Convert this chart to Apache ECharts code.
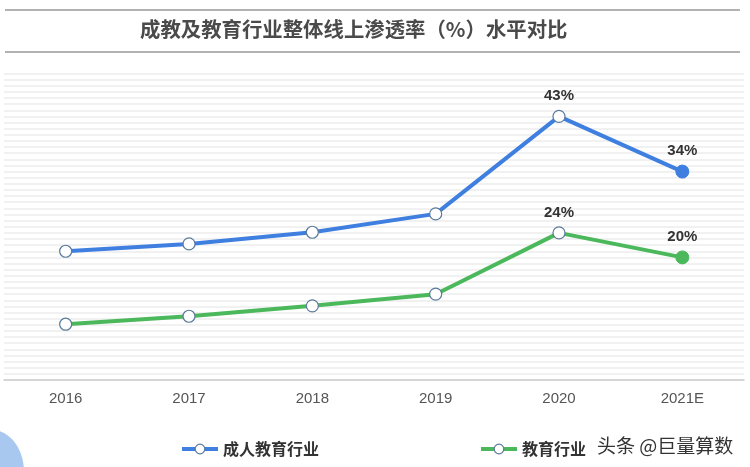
<!DOCTYPE html>
<html><head><meta charset="utf-8">
<script src="https://cdn.jsdelivr.net/npm/echarts@6/dist/echarts.min.js"></script>
<style>html,body{margin:0;padding:0;background:#fff;}#c{width:750px;height:467px;}</style>
</head><body><div id="c"></div>
<script>
const categories = ['2016','2017','2018','2019','2020','2021E'];
const adultEdu = [21.0, 22.2, 24.1, 27.1, 43, 34];
const education = [9.1, 10.4, 12.1, 14.0, 24, 20];
const labelShown = [false, false, false, false, true, true];
const seriesNames = ['成人教育行业', '教育行业'];
const titleText = '成教及教育行业整体线上渗透率（%）水平对比';
const watermark = '头条 @巨量算数';

const blue = '#3f7fe0', green = '#4cb85c';
function mk(vals, color){
  return vals.map((v,i)=>{
    const last = i === vals.length-1;
    return {
      value: v,
      symbolSize: last ? 13 : 12,
      itemStyle: last ? {color: color, borderColor: color, borderWidth: 1} : {color:'#fff', borderColor:'#5a7a9a', borderWidth:1.2},
      label: {show: labelShown[i]}
    };
  });
}
const legendCommon = {top:441, padding:0, itemWidth:36, itemHeight:12,
  itemStyle:{color:'#fff', borderColor:'#5a7a9a', borderWidth:1.2},
  lineStyle:{width:4},
  textStyle:{fontSize:16, fontWeight:'bold', color:'#333', fontFamily:'Noto Sans CJK SC'}};
const chart = echarts.init(document.getElementById('c'));
chart.setOption({
  animation:false,
  backgroundColor:'#fff',
  grid:{left:4, right:6, top:73.5, bottom:87},
  xAxis:{type:'category', data:categories, boundaryGap:true,
    axisLine:{lineStyle:{color:'#ccc', width:1.5}}, axisTick:{show:false},
    axisLabel:{color:'#555', fontSize:15, margin:11, fontFamily:'Arial, Liberation Sans, sans-serif'}},
  yAxis:{type:'value', min:0, max:50, interval:1, axisLabel:{show:false}, axisLine:{show:false}, axisTick:{show:false},
    splitLine:{lineStyle:{color:'#ededed', width:1.5}}},
  legend:[
    Object.assign({data:[seriesNames[0]], left:180}, legendCommon),
    Object.assign({data:[seriesNames[1]], left:479}, legendCommon)
  ],
  graphic:[
    {type:'line', shape:{x1:5,y1:10,x2:740,y2:10}, style:{stroke:'#999', lineWidth:1.5}},
    {type:'line', shape:{x1:5,y1:52,x2:740,y2:52}, style:{stroke:'#999', lineWidth:1.5}},
    {type:'text', left:140, top:19, style:{text:titleText, fontSize:20.4, fontWeight:'bold', fill:'#4a4a4a', fontFamily:'Noto Sans CJK SC'}},
    {type:'text', left:597, top:436, style:{text:watermark, fontSize:19, fill:'#333', fontFamily:'Noto Sans CJK SC'}},
    {type:'ellipse', shape:{cx:-8, cy:472, rx:32, ry:42}, style:{fill:'#a9c8f0'}}
  ],
  series:[
    {name:seriesNames[0], type:'line', data:mk(adultEdu, blue), symbol:'circle', color:blue,
      lineStyle:{color:blue, width:4},
      label:{position:'top', distance:6, fontSize:15, fontWeight:'bold', color:'#333', formatter:'{c}%', fontFamily:'Arial, Liberation Sans, sans-serif'}},
    {name:seriesNames[1], type:'line', data:mk(education, green), symbol:'circle', color:green,
      lineStyle:{color:green, width:4},
      label:{position:'top', distance:6, fontSize:15, fontWeight:'bold', color:'#333', formatter:'{c}%', fontFamily:'Arial, Liberation Sans, sans-serif'}}
  ]
});
</script></body></html>
